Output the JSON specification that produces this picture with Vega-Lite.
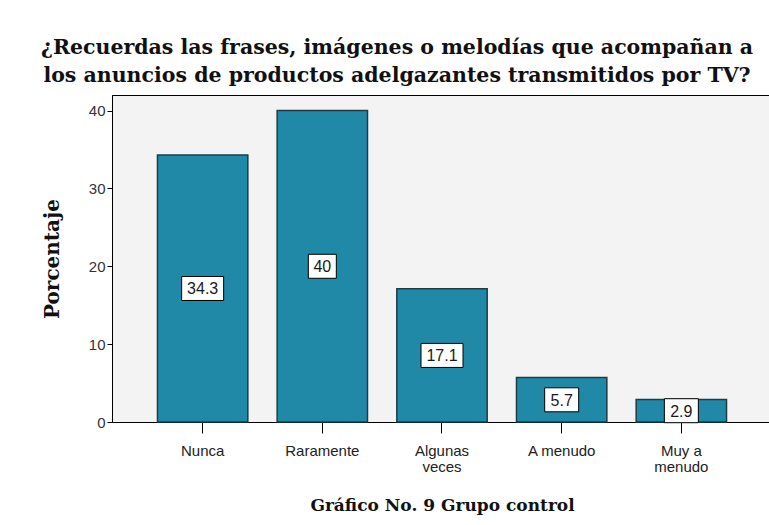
{
  "$schema": "https://vega.github.io/schema/vega-lite/v6.json",
  "autosize": {"type": "none"},
  "width": 660,
  "height": 327,
  "padding": {"left": 112, "top": 95, "right": 0, "bottom": 103},
  "background": "white",
  "config": {
    "view": {"fill": "#f3f3f3", "stroke": "#000000", "strokeWidth": 1}
  },
  "title": {
    "text": ["¿Recuerdas las frases, imágenes o melodías que acompañan a", "los anuncios de productos adelgazantes transmitidos por TV?"],
    "font": "DejaVu Serif",
    "fontWeight": "bold",
    "fontSize": 20.5,
    "lineHeight": 28,
    "color": "#111111",
    "anchor": "middle",
    "frame": "group",
    "dx": -45,
    "offset": 9
  },
  "data": {
    "values": [
      {"category": "Nunca", "value": 34.3},
      {"category": "Raramente", "value": 40},
      {"category": "Algunas veces", "value": 17.1},
      {"category": "A menudo", "value": 5.7},
      {"category": "Muy a menudo", "value": 2.9}
    ]
  },
  "encoding": {
    "x": {
      "field": "category",
      "type": "nominal",
      "sort": null,
      "scale": {"paddingInner": 0.245, "paddingOuter": 0.38},
      "axis": {
        "title": "Gráfico No. 9 Grupo control",
        "titleFont": "DejaVu Serif",
        "titleFontWeight": "bold",
        "titleFontSize": 17,
        "titleColor": "#111111",
        "titlePadding": 23,
        "labelAngle": 0,
        "labelFont": "Liberation Sans",
        "labelFontSize": 15,
        "labelColor": "#222222",
        "labelLineHeight": 16,
        "labelPadding": 10,
        "labelExpr": "datum.label == 'Algunas veces' ? ['Algunas', 'veces'] : datum.label == 'Muy a menudo' ? ['Muy a', 'menudo'] : datum.label",
        "tickSize": 11,
        "tickColor": "#000000",
        "domainColor": "#000000",
        "grid": false
      }
    }
  },
  "layer": [
    {
      "mark": {"type": "bar", "color": "#2089a7", "stroke": "#1d3c45", "strokeWidth": 1.5},
      "encoding": {
        "y": {
          "field": "value",
          "type": "quantitative",
          "scale": {"domain": [0, 42], "nice": false},
          "axis": {
            "title": "Porcentaje",
            "titleFont": "DejaVu Serif",
            "titleFontWeight": "bold",
            "titleFontSize": 20,
            "titleColor": "#111111",
            "titlePadding": 26,
            "values": [0, 10, 20, 30, 40],
            "labelFont": "Liberation Sans",
            "labelFontSize": 15,
            "labelColor": "#333333",
            "labelPadding": 2,
            "tickSize": 5,
            "tickColor": "#000000",
            "domainColor": "#000000",
            "grid": false
          }
        }
      }
    },
    {
      "transform": [{"calculate": "datum.value / 2", "as": "mid"}],
      "mark": {"type": "point", "filled": true, "fill": "white", "stroke": "#000000", "strokeWidth": 1, "opacity": 1, "size": 1600},
      "encoding": {
        "y": {"field": "mid", "type": "quantitative", "scale": {"domain": [0, 42], "nice": false}},
        "shape": {
          "condition": [
            {"test": "length(toString(datum.value)) >= 4", "value": "M-1.05,-0.6H1.05V0.6H-1.05Z"},
            {"test": "length(toString(datum.value)) == 3", "value": "M-0.85,-0.6H0.85V0.6H-0.85Z"}
          ],
          "value": "M-0.7,-0.6H0.7V0.6H-0.7Z"
        }
      }
    },
    {
      "transform": [{"calculate": "datum.value / 2", "as": "mid"}],
      "mark": {"type": "text", "font": "Liberation Sans", "fontSize": 16, "color": "#1a1a1a", "baseline": "middle", "align": "center", "dy": 1},
      "encoding": {
        "y": {"field": "mid", "type": "quantitative", "scale": {"domain": [0, 42], "nice": false}},
        "text": {"field": "value", "type": "nominal"}
      }
    }
  ]
}
